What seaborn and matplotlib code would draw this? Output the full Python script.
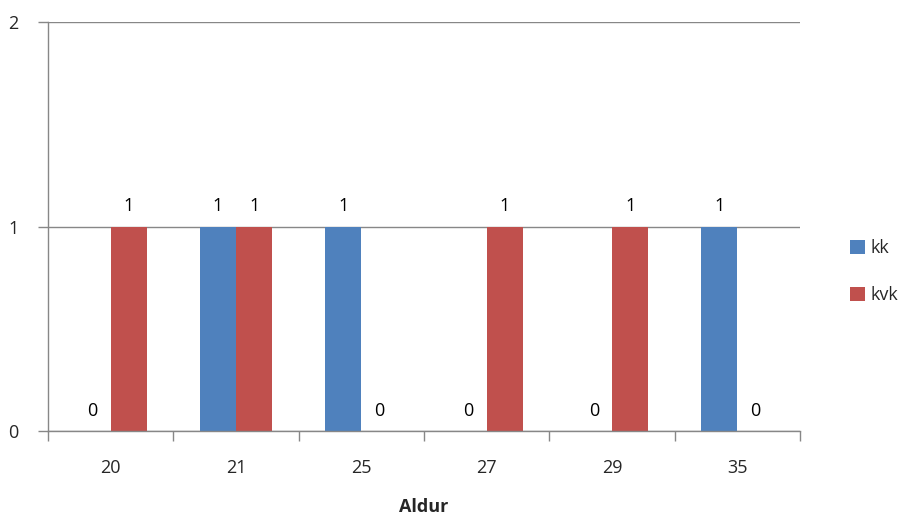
import matplotlib
matplotlib.use("Agg")
import matplotlib.pyplot as plt
import seaborn as sns
import pandas as pd
import numpy as np
from matplotlib.ticker import FixedLocator

categories = ["20", "21", "25", "27", "29", "35"]
kk = [0, 1, 1, 0, 0, 1]
kvk = [1, 1, 0, 1, 1, 0]
series_names = ["kk", "kvk"]
colors = ["#4F81BD", "#C0504D"]

df = pd.DataFrame({
    "Aldur": categories * 2,
    "value": kk + kvk,
    "series": [series_names[0]] * len(categories) + [series_names[1]] * len(categories),
})

sns.set_theme(style="white")
plt.rcParams["font.family"] = ["Open Sans", "DejaVu Sans"]

fig = plt.figure(figsize=(9.05, 5.18), dpi=100)
ax = fig.add_axes([48/905, 1-431/518, (800-48)/905, (431-22)/518])

sns.barplot(data=df, x="Aldur", y="value", hue="series", palette=colors,
            width=0.58, ax=ax, saturation=1, legend=True, linewidth=0)

for c in ax.containers:
    ax.bar_label(c, fmt="%d", padding=8, fontsize=13, color="black")

ax.set_ylim(0, 2)
ax.set_xlim(-0.5, len(categories) - 0.5)
ax.set_yticks([0, 1, 2])
ax.set_yticklabels(["0", "1", "2"], fontsize=13)
ax.yaxis.grid(True, color="#878787", linewidth=1)
ax.set_axisbelow(True)

ax.tick_params(axis="x", which="major", length=0, labelsize=13, pad=20, bottom=False)
ax.xaxis.set_minor_locator(FixedLocator(np.arange(-0.5, len(categories), 1.0)))
ax.tick_params(axis="x", which="minor", length=7, color="#878787", width=1,
               direction="out", bottom=True)
ax.tick_params(axis="y", which="major", length=7, color="#878787", width=1,
               direction="out", pad=14, left=True)

for s in ["top", "right"]:
    ax.spines[s].set_visible(False)
for s in ["left", "bottom"]:
    ax.spines[s].set_color("#878787")
    ax.spines[s].set_linewidth(1)

ax.set_ylabel("")
ax.set_xlabel("Aldur", fontsize=13, fontweight="bold", labelpad=15)

handles, labels = ax.get_legend_handles_labels()
ax.legend(handles, labels, loc="center left", bbox_to_anchor=(1.045, 0.39),
          frameon=False, fontsize=13, handlelength=0.8, handleheight=0.8,
          handletextpad=0.35, labelspacing=1.6)

fig.savefig("out.png", dpi=100)
